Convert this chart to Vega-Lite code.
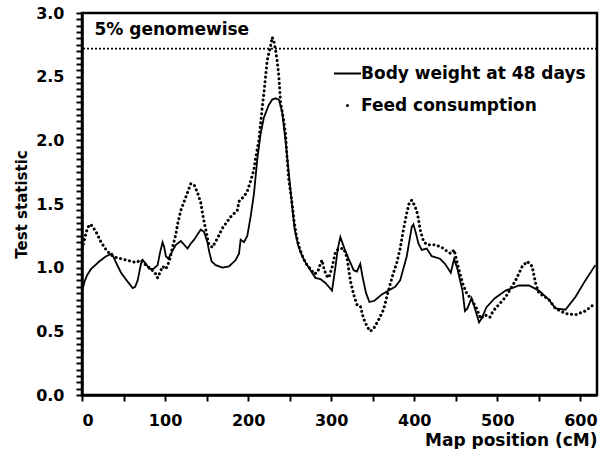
{
  "$schema": "https://vega.github.io/schema/vega-lite/v6.json",
  "width": 515,
  "height": 382,
  "autosize": {"type": "none"},
  "padding": {"left": 82, "top": 13, "right": 11, "bottom": 54},
  "background": "white",
  "config": {"view": {"stroke": "black", "strokeWidth": 2.5}, "font": "DejaVu Sans", "axis": {"labelOverlap": false, "labelBound": false}},
  "datasets": {
    "curves": [
      {"series": "Body weight at 48 days", "pos": 0, "stat": 0.81},
      {"series": "Body weight at 48 days", "pos": 3, "stat": 0.89},
      {"series": "Body weight at 48 days", "pos": 6, "stat": 0.94},
      {"series": "Body weight at 48 days", "pos": 11, "stat": 0.99},
      {"series": "Body weight at 48 days", "pos": 16, "stat": 1.02},
      {"series": "Body weight at 48 days", "pos": 21, "stat": 1.05},
      {"series": "Body weight at 48 days", "pos": 29, "stat": 1.09},
      {"series": "Body weight at 48 days", "pos": 36, "stat": 1.11},
      {"series": "Body weight at 48 days", "pos": 41, "stat": 1.04},
      {"series": "Body weight at 48 days", "pos": 47, "stat": 0.96},
      {"series": "Body weight at 48 days", "pos": 55, "stat": 0.89},
      {"series": "Body weight at 48 days", "pos": 61, "stat": 0.84},
      {"series": "Body weight at 48 days", "pos": 64, "stat": 0.85},
      {"series": "Body weight at 48 days", "pos": 67, "stat": 0.9},
      {"series": "Body weight at 48 days", "pos": 71, "stat": 1.03},
      {"series": "Body weight at 48 days", "pos": 73, "stat": 1.06},
      {"series": "Body weight at 48 days", "pos": 77, "stat": 1.03},
      {"series": "Body weight at 48 days", "pos": 81, "stat": 0.99},
      {"series": "Body weight at 48 days", "pos": 86, "stat": 0.99},
      {"series": "Body weight at 48 days", "pos": 91, "stat": 1.02},
      {"series": "Body weight at 48 days", "pos": 94, "stat": 1.12},
      {"series": "Body weight at 48 days", "pos": 97, "stat": 1.2},
      {"series": "Body weight at 48 days", "pos": 99, "stat": 1.16},
      {"series": "Body weight at 48 days", "pos": 101, "stat": 1.09},
      {"series": "Body weight at 48 days", "pos": 104, "stat": 1.07},
      {"series": "Body weight at 48 days", "pos": 108, "stat": 1.12},
      {"series": "Body weight at 48 days", "pos": 113, "stat": 1.18},
      {"series": "Body weight at 48 days", "pos": 119, "stat": 1.21},
      {"series": "Body weight at 48 days", "pos": 123, "stat": 1.18},
      {"series": "Body weight at 48 days", "pos": 127, "stat": 1.15},
      {"series": "Body weight at 48 days", "pos": 131, "stat": 1.19},
      {"series": "Body weight at 48 days", "pos": 135, "stat": 1.22},
      {"series": "Body weight at 48 days", "pos": 139, "stat": 1.26},
      {"series": "Body weight at 48 days", "pos": 143, "stat": 1.3},
      {"series": "Body weight at 48 days", "pos": 147, "stat": 1.28},
      {"series": "Body weight at 48 days", "pos": 151, "stat": 1.2},
      {"series": "Body weight at 48 days", "pos": 153, "stat": 1.13},
      {"series": "Body weight at 48 days", "pos": 156, "stat": 1.05},
      {"series": "Body weight at 48 days", "pos": 161, "stat": 1.02},
      {"series": "Body weight at 48 days", "pos": 169, "stat": 1.0},
      {"series": "Body weight at 48 days", "pos": 177, "stat": 1.01},
      {"series": "Body weight at 48 days", "pos": 185, "stat": 1.06},
      {"series": "Body weight at 48 days", "pos": 189, "stat": 1.11},
      {"series": "Body weight at 48 days", "pos": 191, "stat": 1.22},
      {"series": "Body weight at 48 days", "pos": 195, "stat": 1.2},
      {"series": "Body weight at 48 days", "pos": 199, "stat": 1.25},
      {"series": "Body weight at 48 days", "pos": 203, "stat": 1.4},
      {"series": "Body weight at 48 days", "pos": 207, "stat": 1.58},
      {"series": "Body weight at 48 days", "pos": 211, "stat": 1.85},
      {"series": "Body weight at 48 days", "pos": 215, "stat": 2.05},
      {"series": "Body weight at 48 days", "pos": 219, "stat": 2.18},
      {"series": "Body weight at 48 days", "pos": 225, "stat": 2.28},
      {"series": "Body weight at 48 days", "pos": 229, "stat": 2.32},
      {"series": "Body weight at 48 days", "pos": 233, "stat": 2.33},
      {"series": "Body weight at 48 days", "pos": 237, "stat": 2.32},
      {"series": "Body weight at 48 days", "pos": 241, "stat": 2.22},
      {"series": "Body weight at 48 days", "pos": 245, "stat": 2.0},
      {"series": "Body weight at 48 days", "pos": 249, "stat": 1.74},
      {"series": "Body weight at 48 days", "pos": 253, "stat": 1.48},
      {"series": "Body weight at 48 days", "pos": 256, "stat": 1.3},
      {"series": "Body weight at 48 days", "pos": 260, "stat": 1.18},
      {"series": "Body weight at 48 days", "pos": 265, "stat": 1.09},
      {"series": "Body weight at 48 days", "pos": 270, "stat": 1.03},
      {"series": "Body weight at 48 days", "pos": 275, "stat": 0.98},
      {"series": "Body weight at 48 days", "pos": 281, "stat": 0.92},
      {"series": "Body weight at 48 days", "pos": 287, "stat": 0.91},
      {"series": "Body weight at 48 days", "pos": 293, "stat": 0.88},
      {"series": "Body weight at 48 days", "pos": 297, "stat": 0.85},
      {"series": "Body weight at 48 days", "pos": 301, "stat": 0.82},
      {"series": "Body weight at 48 days", "pos": 305, "stat": 1.0},
      {"series": "Body weight at 48 days", "pos": 308, "stat": 1.15},
      {"series": "Body weight at 48 days", "pos": 311, "stat": 1.24},
      {"series": "Body weight at 48 days", "pos": 316, "stat": 1.15},
      {"series": "Body weight at 48 days", "pos": 321, "stat": 1.07},
      {"series": "Body weight at 48 days", "pos": 327, "stat": 0.98},
      {"series": "Body weight at 48 days", "pos": 331, "stat": 0.97},
      {"series": "Body weight at 48 days", "pos": 335, "stat": 1.03},
      {"series": "Body weight at 48 days", "pos": 338, "stat": 0.92},
      {"series": "Body weight at 48 days", "pos": 342, "stat": 0.8},
      {"series": "Body weight at 48 days", "pos": 346, "stat": 0.73},
      {"series": "Body weight at 48 days", "pos": 352, "stat": 0.74},
      {"series": "Body weight at 48 days", "pos": 361, "stat": 0.79},
      {"series": "Body weight at 48 days", "pos": 369, "stat": 0.82},
      {"series": "Body weight at 48 days", "pos": 377, "stat": 0.85},
      {"series": "Body weight at 48 days", "pos": 383, "stat": 0.9},
      {"series": "Body weight at 48 days", "pos": 391, "stat": 1.09},
      {"series": "Body weight at 48 days", "pos": 397, "stat": 1.32},
      {"series": "Body weight at 48 days", "pos": 399, "stat": 1.34},
      {"series": "Body weight at 48 days", "pos": 402, "stat": 1.27},
      {"series": "Body weight at 48 days", "pos": 405, "stat": 1.19},
      {"series": "Body weight at 48 days", "pos": 409, "stat": 1.14},
      {"series": "Body weight at 48 days", "pos": 415, "stat": 1.15},
      {"series": "Body weight at 48 days", "pos": 421, "stat": 1.09},
      {"series": "Body weight at 48 days", "pos": 431, "stat": 1.07},
      {"series": "Body weight at 48 days", "pos": 437, "stat": 1.03},
      {"series": "Body weight at 48 days", "pos": 444, "stat": 0.96},
      {"series": "Body weight at 48 days", "pos": 448, "stat": 1.07},
      {"series": "Body weight at 48 days", "pos": 452, "stat": 0.99},
      {"series": "Body weight at 48 days", "pos": 458, "stat": 0.82},
      {"series": "Body weight at 48 days", "pos": 461, "stat": 0.66},
      {"series": "Body weight at 48 days", "pos": 464, "stat": 0.68},
      {"series": "Body weight at 48 days", "pos": 469, "stat": 0.76},
      {"series": "Body weight at 48 days", "pos": 473, "stat": 0.68},
      {"series": "Body weight at 48 days", "pos": 478, "stat": 0.57},
      {"series": "Body weight at 48 days", "pos": 481, "stat": 0.6},
      {"series": "Body weight at 48 days", "pos": 487, "stat": 0.69},
      {"series": "Body weight at 48 days", "pos": 497, "stat": 0.76},
      {"series": "Body weight at 48 days", "pos": 510, "stat": 0.82},
      {"series": "Body weight at 48 days", "pos": 526, "stat": 0.86},
      {"series": "Body weight at 48 days", "pos": 538, "stat": 0.86},
      {"series": "Body weight at 48 days", "pos": 550, "stat": 0.82},
      {"series": "Body weight at 48 days", "pos": 562, "stat": 0.75},
      {"series": "Body weight at 48 days", "pos": 570, "stat": 0.68},
      {"series": "Body weight at 48 days", "pos": 582, "stat": 0.67},
      {"series": "Body weight at 48 days", "pos": 594, "stat": 0.77},
      {"series": "Body weight at 48 days", "pos": 606, "stat": 0.9},
      {"series": "Body weight at 48 days", "pos": 618, "stat": 1.02},
      {"series": "Feed consumption", "pos": 0, "stat": 1.15},
      {"series": "Feed consumption", "pos": 3, "stat": 1.22},
      {"series": "Feed consumption", "pos": 6, "stat": 1.3},
      {"series": "Feed consumption", "pos": 9, "stat": 1.34},
      {"series": "Feed consumption", "pos": 12, "stat": 1.33},
      {"series": "Feed consumption", "pos": 17, "stat": 1.28},
      {"series": "Feed consumption", "pos": 23, "stat": 1.2},
      {"series": "Feed consumption", "pos": 29, "stat": 1.14},
      {"series": "Feed consumption", "pos": 35, "stat": 1.1},
      {"series": "Feed consumption", "pos": 41, "stat": 1.08},
      {"series": "Feed consumption", "pos": 53, "stat": 1.06},
      {"series": "Feed consumption", "pos": 65, "stat": 1.04},
      {"series": "Feed consumption", "pos": 71, "stat": 1.06},
      {"series": "Feed consumption", "pos": 77, "stat": 1.02},
      {"series": "Feed consumption", "pos": 83, "stat": 0.99},
      {"series": "Feed consumption", "pos": 89, "stat": 0.95},
      {"series": "Feed consumption", "pos": 91, "stat": 0.92},
      {"series": "Feed consumption", "pos": 95, "stat": 0.98},
      {"series": "Feed consumption", "pos": 97, "stat": 1.01},
      {"series": "Feed consumption", "pos": 101, "stat": 0.99},
      {"series": "Feed consumption", "pos": 105, "stat": 1.05},
      {"series": "Feed consumption", "pos": 109, "stat": 1.16},
      {"series": "Feed consumption", "pos": 113, "stat": 1.26},
      {"series": "Feed consumption", "pos": 115, "stat": 1.34},
      {"series": "Feed consumption", "pos": 119, "stat": 1.45},
      {"series": "Feed consumption", "pos": 123, "stat": 1.52},
      {"series": "Feed consumption", "pos": 127, "stat": 1.59},
      {"series": "Feed consumption", "pos": 131, "stat": 1.66},
      {"series": "Feed consumption", "pos": 135, "stat": 1.65},
      {"series": "Feed consumption", "pos": 139, "stat": 1.59},
      {"series": "Feed consumption", "pos": 143, "stat": 1.51},
      {"series": "Feed consumption", "pos": 145, "stat": 1.43},
      {"series": "Feed consumption", "pos": 147, "stat": 1.36},
      {"series": "Feed consumption", "pos": 149, "stat": 1.3},
      {"series": "Feed consumption", "pos": 151, "stat": 1.23},
      {"series": "Feed consumption", "pos": 153, "stat": 1.18},
      {"series": "Feed consumption", "pos": 157, "stat": 1.16},
      {"series": "Feed consumption", "pos": 163, "stat": 1.23},
      {"series": "Feed consumption", "pos": 169, "stat": 1.31},
      {"series": "Feed consumption", "pos": 179, "stat": 1.4},
      {"series": "Feed consumption", "pos": 187, "stat": 1.45},
      {"series": "Feed consumption", "pos": 189, "stat": 1.52},
      {"series": "Feed consumption", "pos": 195, "stat": 1.56},
      {"series": "Feed consumption", "pos": 199, "stat": 1.6},
      {"series": "Feed consumption", "pos": 203, "stat": 1.68},
      {"series": "Feed consumption", "pos": 207, "stat": 1.77},
      {"series": "Feed consumption", "pos": 209, "stat": 1.86},
      {"series": "Feed consumption", "pos": 213, "stat": 2.0},
      {"series": "Feed consumption", "pos": 215, "stat": 2.13},
      {"series": "Feed consumption", "pos": 217, "stat": 2.26},
      {"series": "Feed consumption", "pos": 219, "stat": 2.37},
      {"series": "Feed consumption", "pos": 221, "stat": 2.5},
      {"series": "Feed consumption", "pos": 223, "stat": 2.63},
      {"series": "Feed consumption", "pos": 227, "stat": 2.74},
      {"series": "Feed consumption", "pos": 229, "stat": 2.81},
      {"series": "Feed consumption", "pos": 231, "stat": 2.78},
      {"series": "Feed consumption", "pos": 233, "stat": 2.71},
      {"series": "Feed consumption", "pos": 235, "stat": 2.62},
      {"series": "Feed consumption", "pos": 237, "stat": 2.5},
      {"series": "Feed consumption", "pos": 239, "stat": 2.3},
      {"series": "Feed consumption", "pos": 243, "stat": 2.15},
      {"series": "Feed consumption", "pos": 245, "stat": 2.05},
      {"series": "Feed consumption", "pos": 247, "stat": 1.85},
      {"series": "Feed consumption", "pos": 249, "stat": 1.69},
      {"series": "Feed consumption", "pos": 253, "stat": 1.5},
      {"series": "Feed consumption", "pos": 255, "stat": 1.38},
      {"series": "Feed consumption", "pos": 258, "stat": 1.25},
      {"series": "Feed consumption", "pos": 262, "stat": 1.15},
      {"series": "Feed consumption", "pos": 266, "stat": 1.08},
      {"series": "Feed consumption", "pos": 270, "stat": 1.03},
      {"series": "Feed consumption", "pos": 275, "stat": 0.99},
      {"series": "Feed consumption", "pos": 280, "stat": 0.95},
      {"series": "Feed consumption", "pos": 284, "stat": 0.97},
      {"series": "Feed consumption", "pos": 287, "stat": 1.03},
      {"series": "Feed consumption", "pos": 289, "stat": 1.06},
      {"series": "Feed consumption", "pos": 291, "stat": 1.0},
      {"series": "Feed consumption", "pos": 294, "stat": 0.94},
      {"series": "Feed consumption", "pos": 297, "stat": 0.92},
      {"series": "Feed consumption", "pos": 301, "stat": 1.0},
      {"series": "Feed consumption", "pos": 305, "stat": 1.12},
      {"series": "Feed consumption", "pos": 309, "stat": 1.15},
      {"series": "Feed consumption", "pos": 315, "stat": 1.15},
      {"series": "Feed consumption", "pos": 319, "stat": 1.08},
      {"series": "Feed consumption", "pos": 323, "stat": 0.9},
      {"series": "Feed consumption", "pos": 327, "stat": 0.79},
      {"series": "Feed consumption", "pos": 331, "stat": 0.71},
      {"series": "Feed consumption", "pos": 335, "stat": 0.7},
      {"series": "Feed consumption", "pos": 339, "stat": 0.6},
      {"series": "Feed consumption", "pos": 343, "stat": 0.54},
      {"series": "Feed consumption", "pos": 347, "stat": 0.5},
      {"series": "Feed consumption", "pos": 351, "stat": 0.52},
      {"series": "Feed consumption", "pos": 357, "stat": 0.59},
      {"series": "Feed consumption", "pos": 363, "stat": 0.67},
      {"series": "Feed consumption", "pos": 367, "stat": 0.77},
      {"series": "Feed consumption", "pos": 371, "stat": 0.87},
      {"series": "Feed consumption", "pos": 375, "stat": 0.96},
      {"series": "Feed consumption", "pos": 379, "stat": 1.04},
      {"series": "Feed consumption", "pos": 383, "stat": 1.15},
      {"series": "Feed consumption", "pos": 387, "stat": 1.3},
      {"series": "Feed consumption", "pos": 391, "stat": 1.43},
      {"series": "Feed consumption", "pos": 394, "stat": 1.51},
      {"series": "Feed consumption", "pos": 397, "stat": 1.53},
      {"series": "Feed consumption", "pos": 401, "stat": 1.48},
      {"series": "Feed consumption", "pos": 404, "stat": 1.42},
      {"series": "Feed consumption", "pos": 407, "stat": 1.3},
      {"series": "Feed consumption", "pos": 411, "stat": 1.21},
      {"series": "Feed consumption", "pos": 415, "stat": 1.18},
      {"series": "Feed consumption", "pos": 425, "stat": 1.18},
      {"series": "Feed consumption", "pos": 433, "stat": 1.16},
      {"series": "Feed consumption", "pos": 437, "stat": 1.14},
      {"series": "Feed consumption", "pos": 444, "stat": 1.11},
      {"series": "Feed consumption", "pos": 448, "stat": 1.14},
      {"series": "Feed consumption", "pos": 452, "stat": 1.03},
      {"series": "Feed consumption", "pos": 454, "stat": 0.98},
      {"series": "Feed consumption", "pos": 458, "stat": 0.88},
      {"series": "Feed consumption", "pos": 463, "stat": 0.8},
      {"series": "Feed consumption", "pos": 469, "stat": 0.75},
      {"series": "Feed consumption", "pos": 475, "stat": 0.68},
      {"series": "Feed consumption", "pos": 480, "stat": 0.6},
      {"series": "Feed consumption", "pos": 485, "stat": 0.63},
      {"series": "Feed consumption", "pos": 491, "stat": 0.61},
      {"series": "Feed consumption", "pos": 495, "stat": 0.66},
      {"series": "Feed consumption", "pos": 510, "stat": 0.77},
      {"series": "Feed consumption", "pos": 522, "stat": 0.9},
      {"series": "Feed consumption", "pos": 530, "stat": 1.01},
      {"series": "Feed consumption", "pos": 536, "stat": 1.05},
      {"series": "Feed consumption", "pos": 542, "stat": 1.01},
      {"series": "Feed consumption", "pos": 546, "stat": 0.88},
      {"series": "Feed consumption", "pos": 550, "stat": 0.8},
      {"series": "Feed consumption", "pos": 562, "stat": 0.75},
      {"series": "Feed consumption", "pos": 570, "stat": 0.68},
      {"series": "Feed consumption", "pos": 582, "stat": 0.64},
      {"series": "Feed consumption", "pos": 594, "stat": 0.63},
      {"series": "Feed consumption", "pos": 606, "stat": 0.66},
      {"series": "Feed consumption", "pos": 618, "stat": 0.72}
    ]
  },
  "layer": [
    {
      "data": {"name": "curves"},
      "transform": [{"filter": "datum.series === 'Body weight at 48 days'"}],
      "mark": {"type": "line", "strokeWidth": 1.8, "clip": true},
      "encoding": {
        "x": {
          "field": "pos", "type": "quantitative",
          "scale": {"domain": [0, 620], "nice": false, "zero": false},
          "axis": {
            "title": "Map position (cM)",
            "titleAnchor": "end", "titleFont": "DejaVu Sans", "titleFontSize": 17, "titleFontWeight": "bold", "titleColor": "black", "titlePadding": 4,
            "values": [0, 50, 100, 150, 200, 250, 300, 350, 400, 450, 500, 550, 600],
            "tickCount": 100,
            "labelExpr": "datum.value % 100 === 0 ? datum.label : ''",
            "labelFont": "DejaVu Sans", "labelFontSize": 16, "labelFontWeight": "bold", "labelColor": "black", "labelPadding": 11, "labelOverlap": false,
            "domainColor": "black", "domainWidth": 2.5, "tickColor": "black", "tickWidth": 2, "tickSize": 6, "grid": false
          }
        },
        "y": {
          "field": "stat", "type": "quantitative",
          "scale": {"domain": [0, 3], "nice": false, "zero": false},
          "axis": {
            "title": "Test statistic",
            "titleFont": "DejaVu Sans", "titleFontSize": 15, "titleFontWeight": "bold", "titleColor": "black", "titlePadding": 6,
            "values": [0, 0.05, 0.1, 0.15, 0.2, 0.25, 0.3, 0.35, 0.4, 0.45, 0.5, 0.55, 0.6, 0.65, 0.7, 0.75, 0.8, 0.85, 0.9, 0.95, 1, 1.05, 1.1, 1.15, 1.2, 1.25, 1.3, 1.35, 1.4, 1.45, 1.5, 1.55, 1.6, 1.65, 1.7, 1.75, 1.8, 1.85, 1.9, 1.95, 2, 2.05, 2.1, 2.15, 2.2, 2.25, 2.3, 2.35, 2.4, 2.45, 2.5, 2.55, 2.6, 2.65, 2.7, 2.75, 2.8, 2.85, 2.9, 2.95, 3],
            "tickCount": 100,
            "labelExpr": "abs(datum.value * 2 - round(datum.value * 2)) < 0.001 ? format(datum.value, '.1f') : ''",
            "labelFont": "DejaVu Sans", "labelFontSize": 16, "labelFontWeight": "bold", "labelColor": "black", "labelPadding": 12, "labelOverlap": false,
            "domainColor": "black", "domainWidth": 2.5, "tickColor": "black", "tickWidth": 2, "tickSize": 6, "grid": false
          }
        },
        "color": {
          "field": "series", "type": "nominal",
          "scale": {"domain": ["Body weight at 48 days", "Feed consumption"], "range": ["black", "black"]},
          "legend": {
            "title": null, "orient": "none", "legendX": 257, "legendY": 52,
            "labelFont": "DejaVu Sans", "labelFontSize": 17, "labelFontWeight": "bold", "labelColor": "black", "labelLimit": 400, "labelOffset": 5,
            "symbolType": "stroke", "symbolSize": 729, "symbolStrokeWidth": 1.8, "rowPadding": 14,
            "encode": {
              "symbols": {
                "update": {
                  "shape": {"signal": "datum.value === 'Feed consumption' ? 'circle' : 'stroke'"},
                  "size": {"signal": "datum.value === 'Feed consumption' ? 9 : 729"},
                  "strokeWidth": {"signal": "datum.value === 'Feed consumption' ? 0 : 1.8"},
                  "fill": {"value": "black"},
                  "stroke": {"value": "black"},
                  "strokeDash": {"value": [1, 0]}
                }
              }
            }
          }
        }
      }
    },
    {
      "data": {"name": "curves"},
      "transform": [{"filter": "datum.series === 'Feed consumption'"}],
      "mark": {"type": "line", "strokeWidth": 3, "strokeDash": [0.1, 4.5], "strokeCap": "round", "clip": true},
      "encoding": {
        "x": {"field": "pos", "type": "quantitative"},
        "y": {"field": "stat", "type": "quantitative"},
        "color": {"field": "series", "type": "nominal"}
      }
    },
    {
      "data": {"values": [{}]},
      "mark": {"type": "rule", "color": "black", "strokeWidth": 1.6, "strokeDash": [2, 2]},
      "encoding": {"y": {"datum": 2.72}}
    },
    {
      "data": {"values": [{}]},
      "mark": {"type": "text", "align": "left", "baseline": "middle", "font": "DejaVu Sans", "fontSize": 17, "fontWeight": "bold", "color": "black"},
      "encoding": {"x": {"datum": 15}, "y": {"datum": 2.87}, "text": {"value": "5% genomewise"}}
    }
  ]
}
